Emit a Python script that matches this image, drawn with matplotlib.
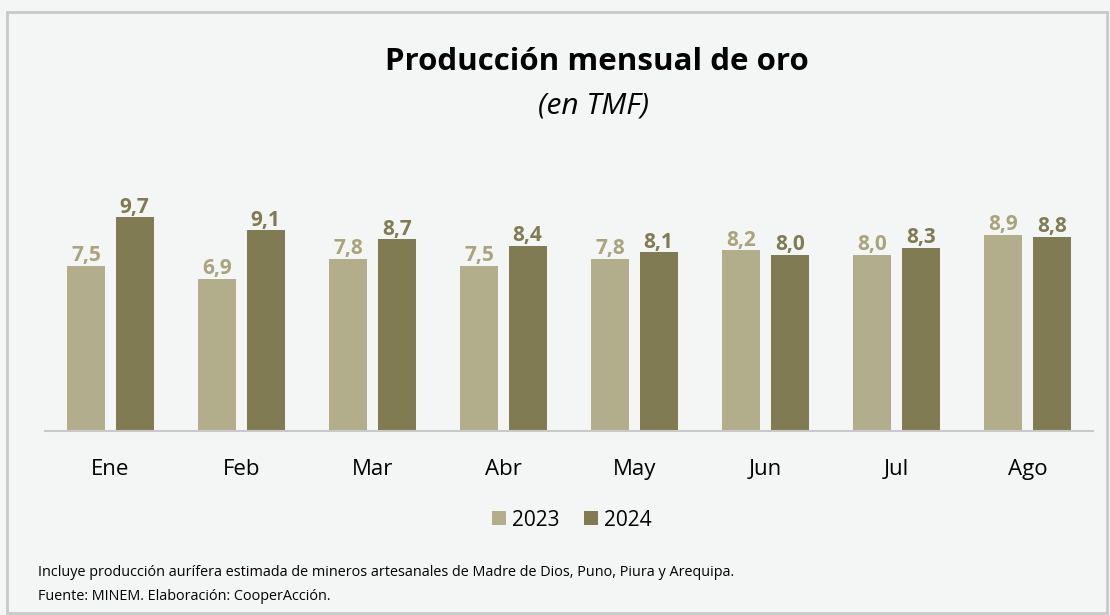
import matplotlib.pyplot as plt
import numpy as np
from matplotlib.patches import Rectangle

meses = ['Ene', 'Feb', 'Mar', 'Abr', 'May', 'Jun', 'Jul', 'Ago']
prod_2023 = [7.5, 6.9, 7.8, 7.5, 7.8, 8.2, 8.0, 8.9]
prod_2024 = [9.7, 9.1, 8.7, 8.4, 8.1, 8.0, 8.3, 8.8]
anios = ['2023', '2024']

c_2023 = '#B2AE8C'
c_2024 = '#807B52'
bg = '#F4F6F5'

plt.rcParams['font.family'] = ['Open Sans', 'DejaVu Sans']

fig = plt.figure(figsize=(11.1, 6.15), dpi=100, facecolor=bg)
fig.patches.append(Rectangle((7 / 1110, 2 / 615), 1100 / 1110, 601 / 615,
                             transform=fig.transFigure, fill=False,
                             edgecolor='#C9C9C9', linewidth=2))

ax = fig.add_axes([45 / 1110, 184 / 615, 1048 / 1110, 242.5 / 615])
ax.set_facecolor(bg)

x = np.arange(len(meses))
w = 0.288
off = 0.1845
b1 = ax.bar(x - off, prod_2023, w, color=c_2023, label=anios[0])
b2 = ax.bar(x + off, prod_2024, w, color=c_2024, label=anios[1])

for bars, vals, col in [(b1, prod_2023, '#A9A47C'), (b2, prod_2024, c_2024)]:
    for b, v in zip(bars, vals):
        ax.text(b.get_x() + b.get_width() / 2, v - 0.02, f'{v:.1f}'.replace('.', ','),
                ha='center', va='bottom', fontsize=15, fontweight='bold', color=col)

ax.set_xlim(-0.5, len(meses) - 0.5)
ax.set_ylim(0, 11)
ax.set_yticks([])
ax.set_xticks(x)
ax.set_xticklabels(meses, fontsize=16)
ax.tick_params(axis='x', length=0, pad=20)
for s in ['top', 'right', 'left']:
    ax.spines[s].set_visible(False)
ax.spines['bottom'].set_color('#C8C8C8')
ax.spines['bottom'].set_linewidth(1.5)

leg = fig.legend(loc='center', bbox_to_anchor=(572 / 1110, 1 - 520 / 615), ncol=2,
                 frameon=False, fontsize=15, handlelength=0.65, handleheight=0.65,
                 handletextpad=0.3, columnspacing=1.2)

fig.text(597 / 1110, 1 - 62 / 615, 'Producción mensual de oro', ha='center', va='center',
         fontsize=22.5, fontweight='bold', color='black')
fig.text(594 / 1110, 1 - 106 / 615, '(en TMF)', ha='center', va='center',
         fontsize=21.5, style='italic', color='black')

fig.text(38 / 1110, 1 - 573 / 615,
         'Incluye producción aurífera estimada de mineros artesanales de Madre de Dios, Puno, Piura y Arequipa.',
         ha='left', va='center', fontsize=10.4)
fig.text(38 / 1110, 1 - 597 / 615, 'Fuente: MINEM. Elaboración: CooperAcción.',
         ha='left', va='center', fontsize=10.4)

fig.savefig('out.png', dpi=100, facecolor=bg)
